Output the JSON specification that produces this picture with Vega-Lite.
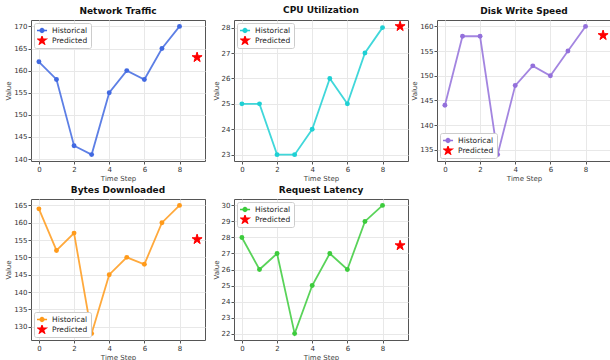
{
  "$schema": "https://vega.github.io/schema/vega-lite/v6.json",
  "background": "white",
  "padding": {"left": 4, "top": 5, "right": 0, "bottom": 0},
  "bounds": "flush",
  "columns": 3,
  "spacing": {"column": 29, "row": 38},
  "config": {
    "font": "DejaVu Sans",
    "view": {"stroke": "#555555", "strokeWidth": 1},
    "axis": {
      "labelFontSize": 7, "titleFontSize": 7, "labelColor": "#333", "titleColor": "#444",
      "titleFontWeight": "normal", "tickColor": "#555", "tickSize": 3, "domain": false,
      "gridColor": "#e8e8e8", "gridOpacity": 1, "labelPadding": 1, "titlePadding": 2
    },
    "title": {"fontSize": 9, "fontWeight": "bold", "color": "#111", "offset": 4},
    "legend": {
      "title": null, "labelFontSize": 7.5, "labelColor": "#222", "fillColor": "white",
      "strokeColor": "#cccccc", "cornerRadius": 2, "padding": 3, "offset": 3,
      "rowPadding": 1, "symbolStrokeWidth": 1.5, "labelOffset": 5, "clipHeight": 9
    }
  },
  "datasets": {
    "d": [
      {"metric": "Network Traffic", "t": 0, "value": 162, "series": "Historical"},
      {"metric": "Network Traffic", "t": 1, "value": 158, "series": "Historical"},
      {"metric": "Network Traffic", "t": 2, "value": 143, "series": "Historical"},
      {"metric": "Network Traffic", "t": 3, "value": 141, "series": "Historical"},
      {"metric": "Network Traffic", "t": 4, "value": 155, "series": "Historical"},
      {"metric": "Network Traffic", "t": 5, "value": 160, "series": "Historical"},
      {"metric": "Network Traffic", "t": 6, "value": 158, "series": "Historical"},
      {"metric": "Network Traffic", "t": 7, "value": 165, "series": "Historical"},
      {"metric": "Network Traffic", "t": 8, "value": 170, "series": "Historical"},
      {"metric": "Network Traffic", "t": 9, "value": 163, "series": "Predicted"},
      {"metric": "CPU Utilization", "t": 0, "value": 25, "series": "Historical"},
      {"metric": "CPU Utilization", "t": 1, "value": 25, "series": "Historical"},
      {"metric": "CPU Utilization", "t": 2, "value": 23, "series": "Historical"},
      {"metric": "CPU Utilization", "t": 3, "value": 23, "series": "Historical"},
      {"metric": "CPU Utilization", "t": 4, "value": 24, "series": "Historical"},
      {"metric": "CPU Utilization", "t": 5, "value": 26, "series": "Historical"},
      {"metric": "CPU Utilization", "t": 6, "value": 25, "series": "Historical"},
      {"metric": "CPU Utilization", "t": 7, "value": 27, "series": "Historical"},
      {"metric": "CPU Utilization", "t": 8, "value": 28, "series": "Historical"},
      {"metric": "CPU Utilization", "t": 9, "value": 28.05, "series": "Predicted"},
      {"metric": "Disk Write Speed", "t": 0, "value": 144, "series": "Historical"},
      {"metric": "Disk Write Speed", "t": 1, "value": 158, "series": "Historical"},
      {"metric": "Disk Write Speed", "t": 2, "value": 158, "series": "Historical"},
      {"metric": "Disk Write Speed", "t": 3, "value": 134, "series": "Historical"},
      {"metric": "Disk Write Speed", "t": 4, "value": 148, "series": "Historical"},
      {"metric": "Disk Write Speed", "t": 5, "value": 152, "series": "Historical"},
      {"metric": "Disk Write Speed", "t": 6, "value": 150, "series": "Historical"},
      {"metric": "Disk Write Speed", "t": 7, "value": 155, "series": "Historical"},
      {"metric": "Disk Write Speed", "t": 8, "value": 160, "series": "Historical"},
      {"metric": "Disk Write Speed", "t": 9, "value": 158.2, "series": "Predicted"},
      {"metric": "Bytes Downloaded", "t": 0, "value": 164, "series": "Historical"},
      {"metric": "Bytes Downloaded", "t": 1, "value": 152, "series": "Historical"},
      {"metric": "Bytes Downloaded", "t": 2, "value": 157, "series": "Historical"},
      {"metric": "Bytes Downloaded", "t": 3, "value": 128, "series": "Historical"},
      {"metric": "Bytes Downloaded", "t": 4, "value": 145, "series": "Historical"},
      {"metric": "Bytes Downloaded", "t": 5, "value": 150, "series": "Historical"},
      {"metric": "Bytes Downloaded", "t": 6, "value": 148, "series": "Historical"},
      {"metric": "Bytes Downloaded", "t": 7, "value": 160, "series": "Historical"},
      {"metric": "Bytes Downloaded", "t": 8, "value": 165, "series": "Historical"},
      {"metric": "Bytes Downloaded", "t": 9, "value": 155.2, "series": "Predicted"},
      {"metric": "Request Latency", "t": 0, "value": 28, "series": "Historical"},
      {"metric": "Request Latency", "t": 1, "value": 26, "series": "Historical"},
      {"metric": "Request Latency", "t": 2, "value": 27, "series": "Historical"},
      {"metric": "Request Latency", "t": 3, "value": 22, "series": "Historical"},
      {"metric": "Request Latency", "t": 4, "value": 25, "series": "Historical"},
      {"metric": "Request Latency", "t": 5, "value": 27, "series": "Historical"},
      {"metric": "Request Latency", "t": 6, "value": 26, "series": "Historical"},
      {"metric": "Request Latency", "t": 7, "value": 29, "series": "Historical"},
      {"metric": "Request Latency", "t": 8, "value": 30, "series": "Historical"},
      {"metric": "Request Latency", "t": 9, "value": 27.5, "series": "Predicted"}
    ]
  },
  "resolve": {
    "scale": {"x": "independent", "y": "independent", "color": "independent", "stroke": "independent", "shape": "independent", "size": "independent"},
    "legend": {"color": "independent", "stroke": "independent", "shape": "independent", "size": "independent"}
  },
  "concat": [
    {
      "title": "Network Traffic", "width": 174, "height": 141,
      "data": {"name": "d"},
      "transform": [{"filter": "datum.metric === 'Network Traffic'"}],
      "encoding": {
        "x": {"field": "t", "type": "quantitative", "title": "Time Step", "scale": {"domain": [-0.45, 9.45], "nice": false, "zero": false}, "axis": {"values": [0, 2, 4, 6, 8]}},
        "y": {"field": "value", "type": "quantitative", "title": "Value", "scale": {"domain": [139.55, 171.45], "nice": false, "zero": false}, "axis": {"values": [140, 145, 150, 155, 160, 165, 170]}}
      },
      "layer": [
        {"mark": {"type": "line", "color": "#4169E1", "strokeWidth": 1.8, "opacity": 0.85}, "transform": [{"filter": "datum.series === 'Historical'"}], "encoding": {}},
        {"mark": {"type": "point", "filled": true, "opacity": 1, "color": "#4169E1", "shape": "circle", "size": 24}, "transform": [{"filter": "datum.series === 'Historical'"}], "encoding": {}},
        {"mark": {"type": "point", "filled": true, "opacity": 1, "color": "#ff0000", "stroke": "#ff0000", "strokeWidth": 1, "size": 110, "shape": "M0,-1L0.2245,-0.309L0.9511,-0.309L0.3633,0.118L0.5878,0.809L0,0.382L-0.5878,0.809L-0.3633,0.118L-0.9511,-0.309L-0.2245,-0.309Z"}, "transform": [{"filter": "datum.series === 'Predicted'"}], "encoding": {}},
        {
          "mark": {"type": "point", "filled": true, "opacity": 1},
          "transform": [{"filter": "datum.series === 'none'"}],
          "encoding": {
            "color": {"field": "series", "type": "nominal", "scale": {"domain": ["Historical", "Predicted"], "range": ["#4169E1", "#ff0000"]}, "legend": {"orient": "top-left"}},
            "stroke": {"field": "series", "type": "nominal", "scale": {"domain": ["Historical", "Predicted"], "range": ["#4169E1", "#ff0000"]}, "legend": {"orient": "top-left"}},
            "shape": {"field": "series", "type": "nominal", "scale": {"domain": ["Historical", "Predicted"], "range": ["M-1.6,0H1.6M-0.6,0A0.6,0.6 0 1,0 0.6,0A0.6,0.6 0 1,0 -0.6,0", "M0,-1L0.2245,-0.309L0.9511,-0.309L0.3633,0.118L0.5878,0.809L0,0.382L-0.5878,0.809L-0.3633,0.118L-0.9511,-0.309L-0.2245,-0.309Z"]}, "legend": {"orient": "top-left"}},
            "size": {"field": "series", "type": "ordinal", "scale": {"domain": ["Historical", "Predicted"], "range": [40, 65]}, "legend": {"orient": "top-left"}}
          }
        }
      ]
    },
    {
      "title": "CPU Utilization", "width": 174, "height": 141,
      "data": {"name": "d"},
      "transform": [{"filter": "datum.metric === 'CPU Utilization'"}],
      "encoding": {
        "x": {"field": "t", "type": "quantitative", "title": "Time Step", "scale": {"domain": [-0.45, 9.45], "nice": false, "zero": false}, "axis": {"values": [0, 2, 4, 6, 8]}},
        "y": {"field": "value", "type": "quantitative", "title": "Value", "scale": {"domain": [22.75, 28.3], "nice": false, "zero": false}, "axis": {"values": [23, 24, 25, 26, 27, 28]}}
      },
      "layer": [
        {"mark": {"type": "line", "color": "#1ED0D4", "strokeWidth": 1.8, "opacity": 0.85}, "transform": [{"filter": "datum.series === 'Historical'"}], "encoding": {}},
        {"mark": {"type": "point", "filled": true, "opacity": 1, "color": "#1ED0D4", "shape": "circle", "size": 24}, "transform": [{"filter": "datum.series === 'Historical'"}], "encoding": {}},
        {"mark": {"type": "point", "filled": true, "opacity": 1, "color": "#ff0000", "stroke": "#ff0000", "strokeWidth": 1, "size": 110, "shape": "M0,-1L0.2245,-0.309L0.9511,-0.309L0.3633,0.118L0.5878,0.809L0,0.382L-0.5878,0.809L-0.3633,0.118L-0.9511,-0.309L-0.2245,-0.309Z"}, "transform": [{"filter": "datum.series === 'Predicted'"}], "encoding": {}},
        {
          "mark": {"type": "point", "filled": true, "opacity": 1},
          "transform": [{"filter": "datum.series === 'none'"}],
          "encoding": {
            "color": {"field": "series", "type": "nominal", "scale": {"domain": ["Historical", "Predicted"], "range": ["#1ED0D4", "#ff0000"]}, "legend": {"orient": "top-left"}},
            "stroke": {"field": "series", "type": "nominal", "scale": {"domain": ["Historical", "Predicted"], "range": ["#1ED0D4", "#ff0000"]}, "legend": {"orient": "top-left"}},
            "shape": {"field": "series", "type": "nominal", "scale": {"domain": ["Historical", "Predicted"], "range": ["M-1.6,0H1.6M-0.6,0A0.6,0.6 0 1,0 0.6,0A0.6,0.6 0 1,0 -0.6,0", "M0,-1L0.2245,-0.309L0.9511,-0.309L0.3633,0.118L0.5878,0.809L0,0.382L-0.5878,0.809L-0.3633,0.118L-0.9511,-0.309L-0.2245,-0.309Z"]}, "legend": {"orient": "top-left"}},
            "size": {"field": "series", "type": "ordinal", "scale": {"domain": ["Historical", "Predicted"], "range": [40, 65]}, "legend": {"orient": "top-left"}}
          }
        }
      ]
    },
    {
      "title": "Disk Write Speed", "width": 174, "height": 141,
      "data": {"name": "d"},
      "transform": [{"filter": "datum.metric === 'Disk Write Speed'"}],
      "encoding": {
        "x": {"field": "t", "type": "quantitative", "title": "Time Step", "scale": {"domain": [-0.45, 9.45], "nice": false, "zero": false}, "axis": {"values": [0, 2, 4, 6, 8]}},
        "y": {"field": "value", "type": "quantitative", "title": "Value", "scale": {"domain": [132.7, 161.3], "nice": false, "zero": false}, "axis": {"values": [135, 140, 145, 150, 155, 160]}}
      },
      "layer": [
        {"mark": {"type": "line", "color": "#9370DB", "strokeWidth": 1.8, "opacity": 0.85}, "transform": [{"filter": "datum.series === 'Historical'"}], "encoding": {}},
        {"mark": {"type": "point", "filled": true, "opacity": 1, "color": "#9370DB", "shape": "circle", "size": 24}, "transform": [{"filter": "datum.series === 'Historical'"}], "encoding": {}},
        {"mark": {"type": "point", "filled": true, "opacity": 1, "color": "#ff0000", "stroke": "#ff0000", "strokeWidth": 1, "size": 110, "shape": "M0,-1L0.2245,-0.309L0.9511,-0.309L0.3633,0.118L0.5878,0.809L0,0.382L-0.5878,0.809L-0.3633,0.118L-0.9511,-0.309L-0.2245,-0.309Z"}, "transform": [{"filter": "datum.series === 'Predicted'"}], "encoding": {}},
        {
          "mark": {"type": "point", "filled": true, "opacity": 1},
          "transform": [{"filter": "datum.series === 'none'"}],
          "encoding": {
            "color": {"field": "series", "type": "nominal", "scale": {"domain": ["Historical", "Predicted"], "range": ["#9370DB", "#ff0000"]}, "legend": {"orient": "bottom-left"}},
            "stroke": {"field": "series", "type": "nominal", "scale": {"domain": ["Historical", "Predicted"], "range": ["#9370DB", "#ff0000"]}, "legend": {"orient": "bottom-left"}},
            "shape": {"field": "series", "type": "nominal", "scale": {"domain": ["Historical", "Predicted"], "range": ["M-1.6,0H1.6M-0.6,0A0.6,0.6 0 1,0 0.6,0A0.6,0.6 0 1,0 -0.6,0", "M0,-1L0.2245,-0.309L0.9511,-0.309L0.3633,0.118L0.5878,0.809L0,0.382L-0.5878,0.809L-0.3633,0.118L-0.9511,-0.309L-0.2245,-0.309Z"]}, "legend": {"orient": "bottom-left"}},
            "size": {"field": "series", "type": "ordinal", "scale": {"domain": ["Historical", "Predicted"], "range": [40, 65]}, "legend": {"orient": "bottom-left"}}
          }
        }
      ]
    },
    {
      "title": "Bytes Downloaded", "width": 174, "height": 141,
      "data": {"name": "d"},
      "transform": [{"filter": "datum.metric === 'Bytes Downloaded'"}],
      "encoding": {
        "x": {"field": "t", "type": "quantitative", "title": "Time Step", "scale": {"domain": [-0.45, 9.45], "nice": false, "zero": false}, "axis": {"values": [0, 2, 4, 6, 8]}},
        "y": {"field": "value", "type": "quantitative", "title": "Value", "scale": {"domain": [126.15, 166.85], "nice": false, "zero": false}, "axis": {"values": [130, 135, 140, 145, 150, 155, 160, 165]}}
      },
      "layer": [
        {"mark": {"type": "line", "color": "#FF9A1A", "strokeWidth": 1.8, "opacity": 0.85}, "transform": [{"filter": "datum.series === 'Historical'"}], "encoding": {}},
        {"mark": {"type": "point", "filled": true, "opacity": 1, "color": "#FF9A1A", "shape": "circle", "size": 24}, "transform": [{"filter": "datum.series === 'Historical'"}], "encoding": {}},
        {"mark": {"type": "point", "filled": true, "opacity": 1, "color": "#ff0000", "stroke": "#ff0000", "strokeWidth": 1, "size": 110, "shape": "M0,-1L0.2245,-0.309L0.9511,-0.309L0.3633,0.118L0.5878,0.809L0,0.382L-0.5878,0.809L-0.3633,0.118L-0.9511,-0.309L-0.2245,-0.309Z"}, "transform": [{"filter": "datum.series === 'Predicted'"}], "encoding": {}},
        {
          "mark": {"type": "point", "filled": true, "opacity": 1},
          "transform": [{"filter": "datum.series === 'none'"}],
          "encoding": {
            "color": {"field": "series", "type": "nominal", "scale": {"domain": ["Historical", "Predicted"], "range": ["#FF9A1A", "#ff0000"]}, "legend": {"orient": "bottom-left"}},
            "stroke": {"field": "series", "type": "nominal", "scale": {"domain": ["Historical", "Predicted"], "range": ["#FF9A1A", "#ff0000"]}, "legend": {"orient": "bottom-left"}},
            "shape": {"field": "series", "type": "nominal", "scale": {"domain": ["Historical", "Predicted"], "range": ["M-1.6,0H1.6M-0.6,0A0.6,0.6 0 1,0 0.6,0A0.6,0.6 0 1,0 -0.6,0", "M0,-1L0.2245,-0.309L0.9511,-0.309L0.3633,0.118L0.5878,0.809L0,0.382L-0.5878,0.809L-0.3633,0.118L-0.9511,-0.309L-0.2245,-0.309Z"]}, "legend": {"orient": "bottom-left"}},
            "size": {"field": "series", "type": "ordinal", "scale": {"domain": ["Historical", "Predicted"], "range": [40, 65]}, "legend": {"orient": "bottom-left"}}
          }
        }
      ]
    },
    {
      "title": "Request Latency", "width": 174, "height": 141,
      "data": {"name": "d"},
      "transform": [{"filter": "datum.metric === 'Request Latency'"}],
      "encoding": {
        "x": {"field": "t", "type": "quantitative", "title": "Time Step", "scale": {"domain": [-0.45, 9.45], "nice": false, "zero": false}, "axis": {"values": [0, 2, 4, 6, 8]}},
        "y": {"field": "value", "type": "quantitative", "title": "Value", "scale": {"domain": [21.6, 30.4], "nice": false, "zero": false}, "axis": {"values": [22, 23, 24, 25, 26, 27, 28, 29, 30]}}
      },
      "layer": [
        {"mark": {"type": "line", "color": "#3CCB3C", "strokeWidth": 1.8, "opacity": 0.85}, "transform": [{"filter": "datum.series === 'Historical'"}], "encoding": {}},
        {"mark": {"type": "point", "filled": true, "opacity": 1, "color": "#3CCB3C", "shape": "circle", "size": 24}, "transform": [{"filter": "datum.series === 'Historical'"}], "encoding": {}},
        {"mark": {"type": "point", "filled": true, "opacity": 1, "color": "#ff0000", "stroke": "#ff0000", "strokeWidth": 1, "size": 110, "shape": "M0,-1L0.2245,-0.309L0.9511,-0.309L0.3633,0.118L0.5878,0.809L0,0.382L-0.5878,0.809L-0.3633,0.118L-0.9511,-0.309L-0.2245,-0.309Z"}, "transform": [{"filter": "datum.series === 'Predicted'"}], "encoding": {}},
        {
          "mark": {"type": "point", "filled": true, "opacity": 1},
          "transform": [{"filter": "datum.series === 'none'"}],
          "encoding": {
            "color": {"field": "series", "type": "nominal", "scale": {"domain": ["Historical", "Predicted"], "range": ["#3CCB3C", "#ff0000"]}, "legend": {"orient": "top-left"}},
            "stroke": {"field": "series", "type": "nominal", "scale": {"domain": ["Historical", "Predicted"], "range": ["#3CCB3C", "#ff0000"]}, "legend": {"orient": "top-left"}},
            "shape": {"field": "series", "type": "nominal", "scale": {"domain": ["Historical", "Predicted"], "range": ["M-1.6,0H1.6M-0.6,0A0.6,0.6 0 1,0 0.6,0A0.6,0.6 0 1,0 -0.6,0", "M0,-1L0.2245,-0.309L0.9511,-0.309L0.3633,0.118L0.5878,0.809L0,0.382L-0.5878,0.809L-0.3633,0.118L-0.9511,-0.309L-0.2245,-0.309Z"]}, "legend": {"orient": "top-left"}},
            "size": {"field": "series", "type": "ordinal", "scale": {"domain": ["Historical", "Predicted"], "range": [40, 65]}, "legend": {"orient": "top-left"}}
          }
        }
      ]
    }
  ]
}
